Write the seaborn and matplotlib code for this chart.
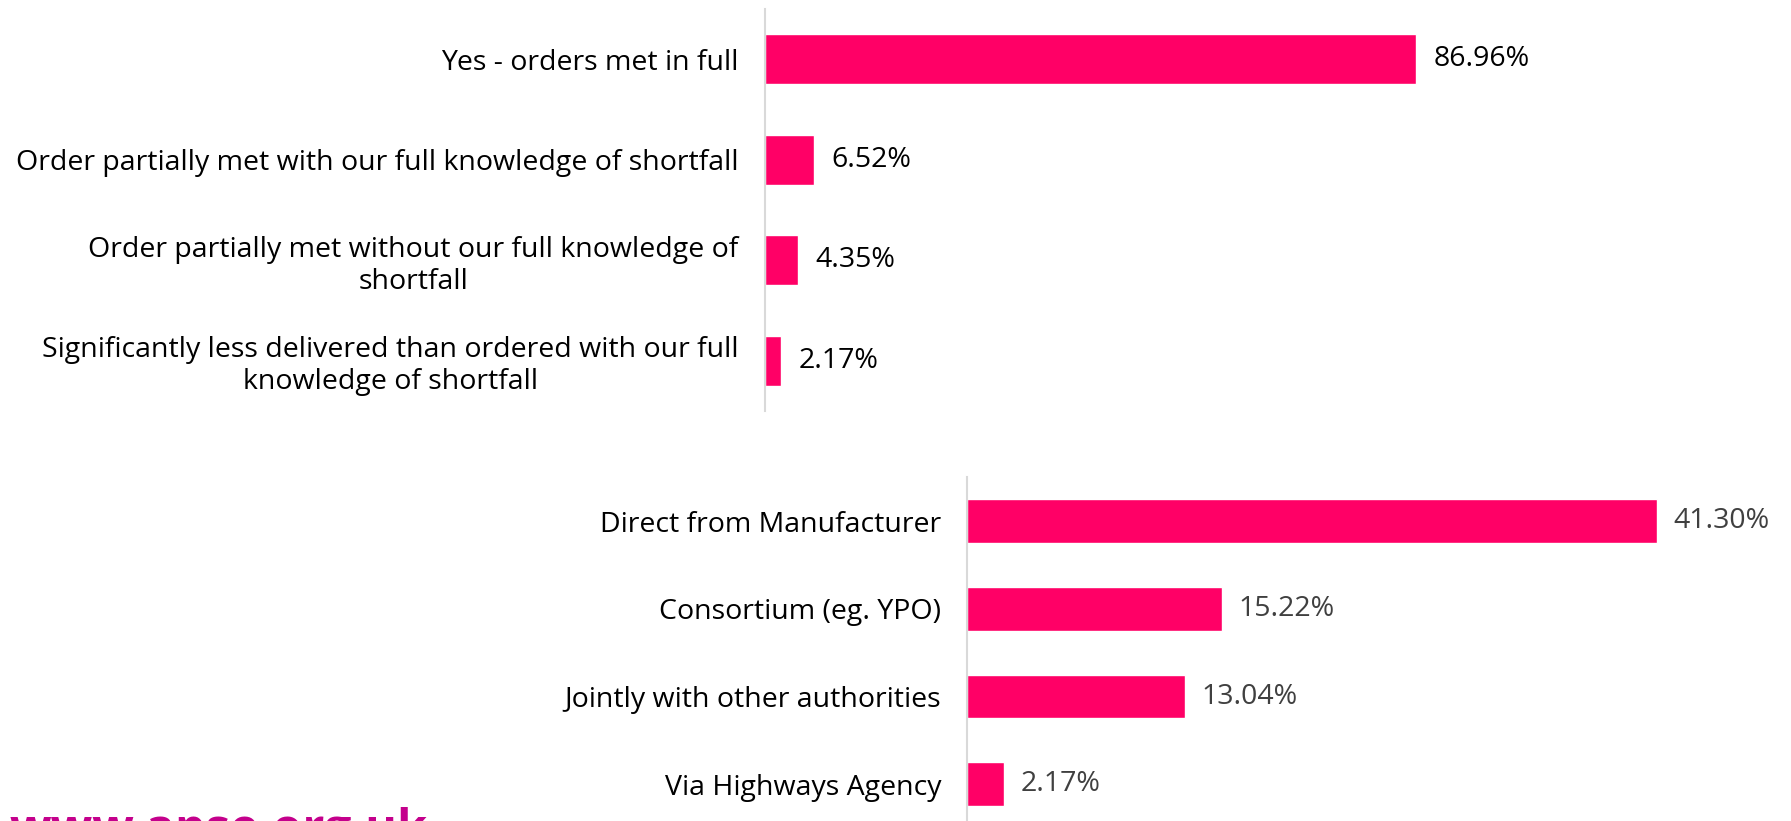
import matplotlib
matplotlib.use("Agg")
import matplotlib.pyplot as plt
import seaborn as sns
import pandas as pd
from matplotlib import font_manager

sns.set_style("white")
avail = {f.name for f in font_manager.fontManager.ttflist}
fam = [f for f in ["Liberation Sans Narrow", "Open Sans", "DejaVu Sans"] if f in avail]
plt.rcParams["font.family"] = fam

top_categories = [
    "Yes - orders met in full",
    "Order partially met with our full knowledge of shortfall",
    "Order partially met without our full knowledge of\nshortfall",
    "Significantly less delivered than ordered with our full\nknowledge of shortfall",
]
top_values = [86.96, 6.52, 4.35, 2.17]

bottom_categories = [
    "Direct from Manufacturer",
    "Consortium (eg. YPO)",
    "Jointly with other authorities",
    "Via Highways Agency",
]
bottom_values = [41.30, 15.22, 13.04, 2.17]

footer_text = "www.apse.org.uk"

BAR = "#FF0066"
AXIS = "#D9D9D9"
FS = 20.5

fig = plt.figure(figsize=(17.91, 8.21), dpi=100)

def draw(ax, cats, vals, xmax, ylim, label_color, pad):
    df = pd.DataFrame({"cat": cats, "val": vals})
    sns.barplot(data=df, x="val", y="cat", orient="h", color=BAR, saturation=1,
                width=0.5, ax=ax)
    ax.set_xlim(0, xmax)
    ax.set_ylim(*ylim)
    for s in ["top", "right", "bottom"]:
        ax.spines[s].set_visible(False)
    ax.spines["left"].set_color(AXIS)
    ax.spines["left"].set_linewidth(1.5)
    ax.set_xticks([])
    ax.set_xlabel("")
    ax.set_ylabel("")
    ax.tick_params(axis="y", length=0, pad=19, labelsize=FS, labelcolor="black")
    for t in ax.get_yticklabels():
        t.set_multialignment("center")
    ax.bar_label(ax.containers[0], labels=[f"{v:.2f}%" for v in vals],
                 padding=pad, fontsize=FS, color=label_color)

ax1 = fig.add_axes([765 / 1791, 0.4994, 748.7 / 1791, 0.4896])
draw(ax1, top_categories, top_values, 100, (3.5, -0.5), "black", 12.5)

ax2 = fig.add_axes([967.4 / 1791, 0.0, 751.5 / 1791, 0.4184])
draw(ax2, bottom_categories, bottom_values, 45, (3.42, -0.5), "#404040", 12)

fig.text(10 / 1791, -0.0286, footer_text, fontsize=35, fontweight="bold",
         color="#C4008C", ha="left", va="baseline")

fig.savefig("out.png", dpi=100)
